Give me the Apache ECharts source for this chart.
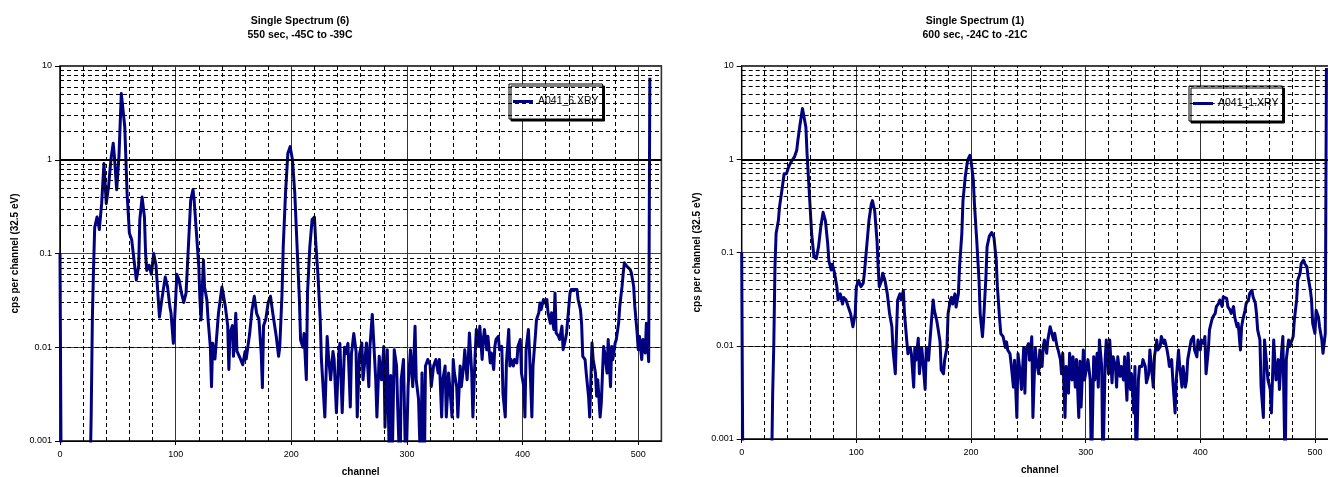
<!DOCTYPE html>
<html>
<head>
<meta charset="utf-8">
<script src="https://cdn.jsdelivr.net/npm/echarts@6/dist/echarts.min.js"></script>
<style>
html,body{margin:0;padding:0;background:#fff;}
#chart{width:1328px;height:477px;}
</style>
</head>
<body>
<div id="chart"></div>
<script>
// ---- data (channel, cps per channel); values below 0.001 = zero counts ----
const spectrum6Name = 'A041_6.XRY';
const spectrum6 = [[0,0.1],[1,0.0004],[26,0.0004],[27,0.002],[28,0.021],[29,0.07],[30,0.19],[32,0.245],[33,0.22],[34,0.18],[36,0.34],[38,0.91],[40,0.34],[42,0.52],[44,1.0],[46,1.5],[47,1.1],[49,0.48],[51,1.1],[53,5.1],[54,5.3],[56,2.25],[58,0.44],[60,0.164],[62,0.14],[64,0.085],[66,0.052],[68,0.073],[69,0.23],[71,0.40],[73,0.245],[74,0.1],[75,0.066],[77,0.075],[79,0.06],[81,0.1],[83,0.075],[85,0.032],[86,0.021],[88,0.032],[91,0.056],[93,0.044],[95,0.027],[96,0.023],[98,0.011],[100,0.032],[101,0.06],[103,0.052],[105,0.038],[107,0.03],[109,0.038],[111,0.118],[113,0.37],[115,0.48],[116,0.37],[118,0.164],[120,0.073],[121,0.032],[122,0.0195],[124,0.085],[125,0.044],[127,0.032],[128,0.02],[130,0.01],[131,0.0038],[132,0.011],[134,0.0075],[137,0.023],[140,0.044],[141,0.038],[143,0.027],[145,0.017],[146,0.0058],[147,0.0142],[149,0.017],[150,0.008],[152,0.023],[153,0.0091],[156,0.0075],[158,0.0065],[160,0.009],[161,0.0075],[164,0.014],[166,0.025],[168,0.035],[170,0.023],[172,0.02],[174,0.0085],[175,0.0037],[176,0.017],[178,0.02],[180,0.03],[182,0.035],[184,0.023],[187,0.013],[189,0.008],[190,0.01],[192,0.038],[193,0.118],[195,0.44],[197,1.17],[199,1.38],[201,1.0],[203,0.44],[205,0.118],[207,0.032],[208,0.012],[210,0.01],[211,0.014],[213,0.0045],[214,0.038],[216,0.118],[218,0.23],[220,0.245],[221,0.14],[223,0.06],[225,0.02],[226,0.0075],[228,0.0029],[229,0.0018],[231,0.013],[232,0.0085],[234,0.0045],[236,0.009],[237,0.0075],[239,0.002],[241,0.0085],[242,0.011],[244,0.002],[246,0.01],[247,0.0085],[249,0.011],[251,0.0023],[252,0.0085],[254,0.014],[256,0.009],[257,0.0018],[259,0.0085],[261,0.0111],[262,0.0045],[265,0.0111],[267,0.0038],[268,0.0102],[270,0.0224],[271,0.0214],[273,0.0045],[274,0.0018],[276,0.008],[278,0.0045],[280,0.0102],[281,0.0014],[283,0.0094],[285,0.0004],[286,0.005],[287,0.0004],[289,0.0094],[291,0.0063],[292,0.0023],[294,0.0004],[295,0.0045],[297,0.0074],[299,0.0004],[301,0.0038],[303,0.0094],[305,0.0038],[307,0.0168],[308,0.0045],[310,0.0028],[312,0.0004],[313,0.0053],[315,0.0004],[316,0.0063],[318,0.0074],[320,0.0065],[321,0.0038],[323,0.0063],[325,0.0074],[327,0.0053],[328,0.0074],[330,0.0018],[331,0.0045],[333,0.0063],[334,0.0018],[336,0.0053],[337,0.0038],[339,0.0018],[340,0.0074],[341,0.0053],[343,0.0038],[344,0.0018],[346,0.0063],[347,0.0038],[349,0.0063],[350,0.0094],[352,0.0045],[353,0.0074],[354,0.0142],[356,0.0053],[357,0.0018],[359,0.0087],[360,0.0155],[362,0.0102],[363,0.0168],[365,0.0074],[366,0.0121],[367,0.0155],[369,0.0094],[370,0.0131],[372,0.0068],[373,0.0087],[375,0.0058],[376,0.0102],[377,0.0121],[379,0.0131],[380,0.0094],[382,0.0102],[383,0.0032],[385,0.0018],[386,0.0068],[388,0.0155],[389,0.0063],[390,0.0074],[392,0.0063],[393,0.0074],[395,0.0068],[396,0.0102],[398,0.0121],[399,0.0053],[401,0.0038],[402,0.0018],[403,0.0094],[405,0.0155],[406,0.0087],[408,0.0018],[409,0.0063],[411,0.0131],[412,0.0197],[414,0.0233],[415,0.0297],[416,0.0252],[418,0.0323],[419,0.0297],[421,0.0323],[422,0.0233],[424,0.018],[425,0.0233],[427,0.0155],[428,0.038],[429,0.0142],[431,0.0131],[432,0.0121],[434,0.0168],[435,0.0094],[437,0.0121],[438,0.0142],[440,0.0274],[441,0.038],[442,0.0413],[444,0.0413],[445,0.043],[447,0.0413],[448,0.0323],[450,0.0252],[451,0.018],[452,0.008],[454,0.0074],[455,0.0053],[457,0.003],[458,0.0018],[460,0.0111],[461,0.0074],[463,0.0053],[464,0.003],[465,0.0045],[467,0.0018],[468,0.0025],[470,0.0102],[471,0.0087],[473,0.0053],[474,0.0121],[476,0.0038],[477,0.0102],[478,0.0074],[480,0.0111],[481,0.0121],[483,0.018],[484,0.0274],[486,0.0448],[487,0.0622],[488,0.0795],[490,0.0733],[491,0.0763],[493,0.0675],[494,0.0622],[496,0.0448],[497,0.0274],[499,0.0142],[500,0.0094],[501,0.0131],[503,0.0074],[504,0.0121],[506,0.0087],[507,0.018],[509,0.007],[510,7.5]];

const spectrum1Name = 'A041_1.XRY';
const spectrum1 = [[0,0.1],[1,0.0004],[26,0.0004],[27,0.003],[28,0.0104],[29,0.069],[30,0.16],[32,0.22],[33,0.31],[35,0.46],[37,0.70],[39,0.70],[41,0.83],[43,0.93],[46,1.06],[48,1.25],[49,1.6],[51,2.42],[53,3.5],[54,3.35],[56,2.2],[57,1.15],[59,0.43],[61,0.16],[63,0.09],[65,0.086],[67,0.115],[69,0.19],[71,0.27],[73,0.22],[75,0.125],[76,0.082],[78,0.065],[79,0.075],[81,0.06],[83,0.043],[84,0.031],[86,0.036],[88,0.028],[89,0.033],[91,0.031],[93,0.026],[95,0.022],[97,0.016],[99,0.022],[100,0.043],[102,0.05],[104,0.043],[106,0.047],[107,0.06],[109,0.115],[111,0.22],[113,0.33],[114,0.36],[116,0.28],[118,0.135],[119,0.07],[120,0.043],[122,0.05],[123,0.06],[125,0.05],[127,0.036],[129,0.022],[131,0.016],[132,0.009],[134,0.005],[135,0.0135],[136,0.031],[138,0.036],[139,0.031],[141,0.039],[142,0.022],[144,0.0112],[145,0.0082],[147,0.0096],[148,0.0082],[150,0.0036],[151,0.0096],[152,0.007],[154,0.012],[155,0.005],[157,0.0096],[158,0.007],[160,0.0034],[161,0.0096],[163,0.007],[164,0.0105],[166,0.022],[167,0.031],[168,0.024],[170,0.019],[171,0.016],[173,0.011],[174,0.0055],[176,0.005],[177,0.007],[179,0.0096],[180,0.022],[182,0.031],[183,0.033],[184,0.028],[186,0.036],[187,0.026],[189,0.036],[190,0.07],[192,0.16],[193,0.36],[195,0.65],[197,0.97],[199,1.1],[200,0.97],[202,0.6],[203,0.33],[205,0.135],[207,0.05],[208,0.022],[210,0.0125],[211,0.019],[213,0.054],[214,0.115],[216,0.15],[218,0.164],[220,0.145],[222,0.083],[223,0.043],[225,0.019],[226,0.0135],[228,0.0125],[230,0.0096],[231,0.011],[232,0.009],[234,0.0082],[235,0.0064],[237,0.0036],[238,0.007],[240,0.0017],[241,0.0082],[243,0.005],[244,0.0034],[246,0.0096],[247,0.0031],[248,0.009],[250,0.0105],[251,0.007],[253,0.0125],[254,0.0017],[256,0.0096],[257,0.007],[259,0.005],[260,0.009],[262,0.006],[263,0.0098],[264,0.0115],[266,0.0083],[267,0.0115],[269,0.016],[270,0.0166],[272,0.0115],[273,0.0136],[275,0.0098],[276,0.009],[278,0.0071],[279,0.005],[280,0.0083],[282,0.0017],[283,0.006],[285,0.0031],[286,0.0083],[288,0.0043],[289,0.0076],[291,0.0036],[292,0.0071],[294,0.0017],[295,0.0068],[296,0.0022],[298,0.009],[299,0.0043],[301,0.006],[302,0.0071],[304,0.0043],[305,0.0004],[307,0.0076],[308,0.0043],[310,0.0083],[311,0.0036],[312,0.0115],[314,0.006],[315,0.0004],[317,0.0071],[318,0.0115],[320,0.005],[321,0.0115],[323,0.004],[324,0.0076],[326,0.006],[327,0.0036],[328,0.0076],[330,0.0047],[331,0.006],[333,0.0043],[334,0.0076],[336,0.0026],[337,0.0083],[339,0.0034],[340,0.005],[342,0.0019],[343,0.006],[344,0.0004],[346,0.0043],[347,0.006],[349,0.006],[350,0.0071],[352,0.006],[353,0.004],[355,0.005],[356,0.009],[358,0.005],[359,0.0036],[360,0.0076],[362,0.0115],[363,0.009],[365,0.0098],[366,0.0126],[368,0.0106],[369,0.0115],[371,0.009],[372,0.0076],[373,0.006],[375,0.0071],[376,0.0043],[378,0.0019],[379,0.0043],[381,0.009],[382,0.006],[384,0.0036],[385,0.006],[387,0.0036],[388,0.0043],[389,0.0071],[391,0.0098],[392,0.0115],[394,0.0126],[395,0.009],[397,0.0076],[398,0.0115],[400,0.009],[401,0.0115],[403,0.0106],[404,0.0126],[405,0.005],[407,0.009],[408,0.0148],[410,0.0188],[411,0.0204],[413,0.0222],[414,0.0263],[416,0.0285],[417,0.031],[419,0.0263],[420,0.0335],[421,0.0349],[423,0.0322],[424,0.0263],[426,0.024],[427,0.0222],[429,0.0263],[430,0.0204],[432,0.016],[433,0.0174],[435,0.009],[436,0.016],[437,0.0188],[439,0.024],[440,0.0285],[442,0.031],[443,0.0363],[445,0.0394],[446,0.0335],[448,0.0285],[449,0.0222],[450,0.0148],[452,0.0115],[453,0.0036],[455,0.0017],[456,0.0115],[458,0.006],[459,0.0043],[461,0.0034],[462,0.0019],[464,0.0115],[465,0.0071],[466,0.0043],[468,0.0071],[469,0.0034],[471,0.009],[472,0.0126],[474,0.0004],[475,0.0071],[477,0.0115],[478,0.0098],[480,0.0115],[481,0.0126],[482,0.0188],[484,0.031],[485,0.0506],[487,0.0595],[488,0.0762],[490,0.0828],[491,0.0762],[493,0.0702],[494,0.055],[496,0.0394],[497,0.031],[498,0.0174],[500,0.0136],[501,0.024],[503,0.0204],[504,0.016],[506,0.0115],[507,0.0083],[509,0.0136],[510,9.5]];

const titles = [
  ['Single Spectrum (6)', '550 sec, -45C to -39C'],
  ['Single Spectrum (1)', '600 sec, -24C to -21C']
];
const xAxisTitle = 'channel';
const yAxisTitle = 'cps per channel (32.5 eV)';
const xRange = [0, 520];
const yRange = [0.001, 10];
const xMajorStep = 100;
const xMinorStep = 20;

// ---- layout / style ----
const FONT = '"Liberation Sans", Arial, sans-serif';
const LINE_COLOR = '#000080';
const panels = [
  {left: 60, top: 66, width: 601.4, height: 375, titleX: 300, legendX: 509, legendY: 84, nameGapY: 40},
  {left: 741.7, top: 66, width: 596.2, height: 373, titleX: 975, legendX: 1189, legendY: 86, nameGapY: 39}
];

// minor grid values (structure of the log/linear grid)
const yMinor = [];
for (let e = -3; e <= 0; e++) for (let m = 2; m <= 9; m++) yMinor.push(+(m * Math.pow(10, e)).toPrecision(3));
const xMinor = [];
for (let v = xRange[0] + xMinorStep; v <= 500; v += xMinorStep) if (v % xMajorStep !== 0) xMinor.push(v);

const dashed = {color: '#000', width: 1, type: [4, 3]};

const grids = [], xAxes = [], yAxes = [], series = [], legends = [], graphics = [];
const specs = [[spectrum6Name, spectrum6], [spectrum1Name, spectrum1]];

panels.forEach((p, i) => {
  grids.push({left: p.left, top: p.top, width: p.width, height: p.height, show: true,
    outerBoundsMode: 'none', containLabel: false,
    borderColor: '#000', borderWidth: 1.5, backgroundColor: '#fff'});
  xAxes.push({
    gridIndex: i, type: 'value', min: xRange[0], max: xRange[1], interval: xMajorStep,
    name: xAxisTitle, nameLocation: 'middle', nameGap: 26,
    nameTextStyle: {fontFamily: FONT, fontWeight: 'bold', fontSize: 10, color: '#000'},
    axisLine: {show: true, onZero: false, lineStyle: {color: '#000', width: 1}},
    axisTick: {show: true, length: 4, lineStyle: {color: '#000'}},
    axisLabel: {fontFamily: FONT, fontSize: 9, color: '#000', margin: 9, showMaxLabel: false},
    splitLine: {show: true, lineStyle: {color: '#333', width: 1}}
  });
  yAxes.push({
    gridIndex: i, type: 'log', logBase: 10, min: yRange[0], max: yRange[1],
    name: yAxisTitle, nameLocation: 'middle', nameGap: p.nameGapY, nameRotate: 90,
    nameTextStyle: {fontFamily: FONT, fontWeight: 'bold', fontSize: 10, color: '#000'},
    axisLine: {show: true, lineStyle: {color: '#000', width: 1}},
    axisTick: {show: true, length: 5, lineStyle: {color: '#000'}},
    axisLabel: {fontFamily: FONT, fontSize: 9, color: '#000', margin: 8},
    splitLine: {show: true, lineStyle: {color: '#444', width: 1}}
  });
  const ml = [];
  yMinor.forEach(v => ml.push({yAxis: v, lineStyle: dashed}));
  xMinor.forEach(v => ml.push({xAxis: v, lineStyle: dashed}));
  ml.push({yAxis: 1, lineStyle: {color: '#000', width: 2, type: 'solid'}});
  series.push({
    type: 'line', xAxisIndex: i, yAxisIndex: i, data: [], silent: true, z: 1,
    markLine: {silent: true, symbol: ['none', 'none'], label: {show: false}, animation: false, data: ml}
  });
  series.push({
    name: specs[i][0], type: 'line', xAxisIndex: i, yAxisIndex: i, data: specs[i][1],
    showSymbol: false, symbol: 'none', z: 3, clip: true,
    lineStyle: {color: LINE_COLOR, width: 3, join: 'round'},
    itemStyle: {color: LINE_COLOR}
  });
  legends.push({
    data: [specs[i][0]], left: p.legendX, top: p.legendY, orient: 'vertical',
    padding: [12, 4, 12, 4], itemWidth: 20, itemHeight: 3, icon: 'rect', itemGap: 0,
    borderColor: '#000', borderWidth: 1, backgroundColor: '#fff',
    shadowColor: '#000', shadowOffsetX: 2, shadowOffsetY: 2, shadowBlur: 0,
    textStyle: {fontFamily: FONT, fontSize: 10.5, color: '#000'}
  });
  titles[i].forEach((t, k) => {
    graphics.push({type: 'text', x: p.titleX, y: 16 + k * 14,
      style: {text: t, align: 'center', verticalAlign: 'top', fill: '#000',
        font: 'bold 10.5px ' + FONT}});
  });
});

const chart = echarts.init(document.getElementById('chart'), null, {renderer: 'canvas'});
chart.setOption({
  animation: false,
  backgroundColor: '#fff',
  grid: grids, xAxis: xAxes, yAxis: yAxes, series: series, legend: legends,
  graphic: graphics
});
</script>
</body>
</html>
